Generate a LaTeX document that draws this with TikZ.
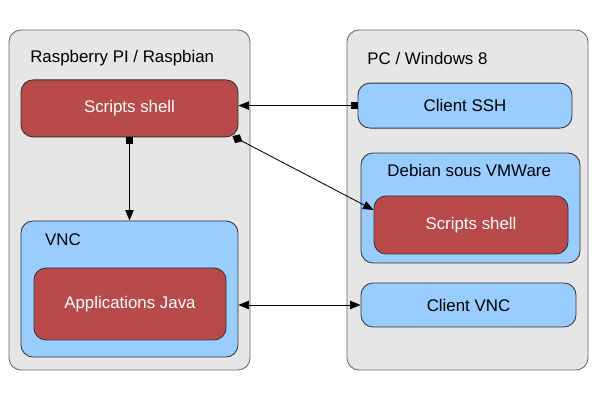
\documentclass[tikz,border=0pt]{standalone}
\usepackage{fontspec}
\setmainfont{Liberation Sans}
\usetikzlibrary{positioning,calc,arrows.meta}

\definecolor{hostgray}{HTML}{E6E6E6}
\definecolor{hostline}{HTML}{666666}
\definecolor{shellred}{HTML}{B84A4A}
\definecolor{zoneblue}{HTML}{99CCFF}

\begin{document}
\begin{tikzpicture}[
    host/.style={draw=hostline, fill=hostgray, rounded corners=0.3cm, line width=0.6pt, inner sep=0pt},
    zone/.style={draw=black!80, fill=zoneblue, rounded corners=0.3cm, line width=0.6pt, inner sep=0pt},
    shellbox/.style={draw=black!80, fill=shellred, rounded corners=0.3cm, line width=0.6pt, inner sep=0pt, text=white},
    title/.style={anchor=west, inner sep=0pt},
    link/.style={line width=0.6pt},
    font=\fontsize{12}{14}\selectfont
]
    \useasboundingbox (0,0) rectangle (15,10);

    % Raspberry side
    \begin{scope}
        \node[host, minimum width=6.025cm, minimum height=8.5cm] (pi) at (3.2375,5) {};
        \node[title] (pititle) at (0.75,8.55) {Raspberry PI / Raspbian};
        \node[shellbox, minimum width=5.425cm, minimum height=1.425cm] (shellpi) at (3.2375,7.29) {Scripts shell};
        \node[zone, minimum width=5.425cm, minimum height=3.4cm] (vncpi) at (3.2375,2.775) {};
        \node[title] (vnctitle) at (1.12,4.0) {VNC};
        \node[shellbox, minimum width=4.8cm, minimum height=1.8cm] (java) at (3.25,2.4) {Applications Java};
    \end{scope}

    % PC side
    \begin{scope}
        \node[host, minimum width=6.025cm, minimum height=8.5cm] (pc) at (11.6875,5) {};
        \node[title] (pctitle) at (9.18,8.53) {PC / Windows 8};
        \node[zone, minimum width=5.35cm, minimum height=1.125cm] (ssh) at (11.625,7.36) {Client SSH};
        \node[zone, minimum width=5.475cm, minimum height=2.75cm] (debian) at (11.7625,4.8) {};
        \node (debtitle) at (11.73,5.73) {Debian sous VMWare};
        \node[shellbox, minimum width=4.85cm, minimum height=1.45cm] (shellvm) at (11.775,4.375) {Scripts shell};
        \node[zone, minimum width=5.375cm, minimum height=1.1cm] (vncclient) at (11.7125,2.375) {Client VNC};
    \end{scope}

    % Links
    \draw[link, {Square[length=5pt,width=5pt]}-{Triangle[length=7.5pt,width=6pt]}] (ssh.west) -- (ssh.west -| shellpi.east);
    \draw[link, {Square[length=5pt,width=5pt]}-{Triangle[length=7.5pt,width=6pt]}] (shellpi.south) -- (vncpi.north);
    \draw[link, {Diamond[length=8pt,width=7pt]}-{Triangle[length=7.5pt,width=6pt]}] ($(shellpi.south east)+(-0.15,0.03)$) -- ($(shellvm.west)+(0,0.375)$);
    \draw[link, {Triangle[length=7.5pt,width=6pt]}-{Triangle[length=7.5pt,width=6pt]}] (vncclient.west) -- (vncclient.west -| vncpi.east);
\end{tikzpicture}
\end{document}
